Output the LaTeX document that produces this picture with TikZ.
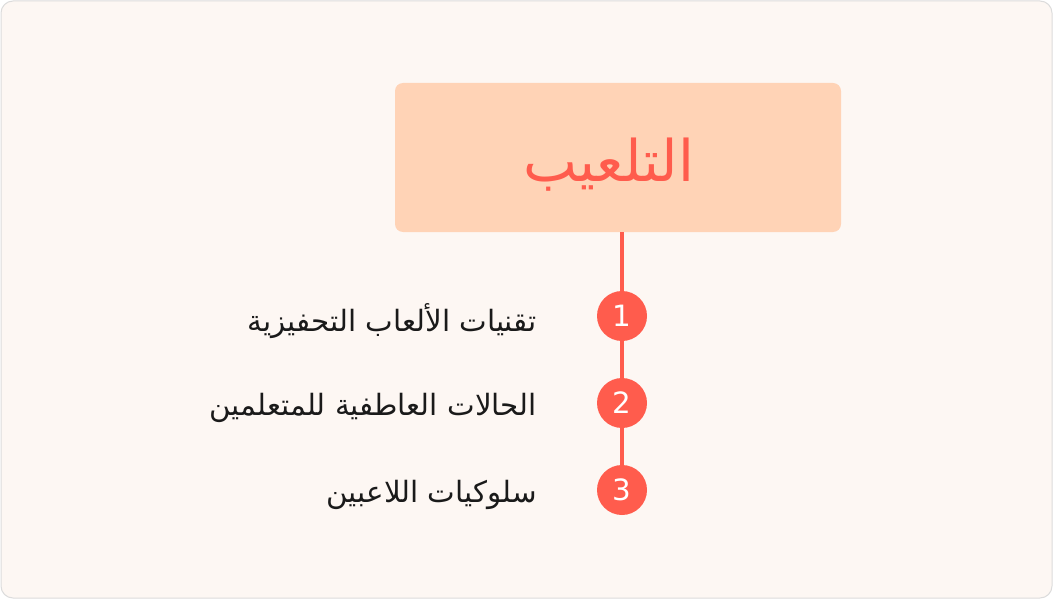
\documentclass[tikz,border=0pt]{standalone}
\usepackage{fontspec}
\setmainfont{DejaVu Sans}
\newfontfamily\arabicfont[Script=Arabic]{DejaVu Sans}
\TeXXeTstate=1
\definecolor{pagebg}{HTML}{FDF7F3}
\definecolor{pageline}{HTML}{DCDCDC}
\definecolor{peach}{HTML}{FFD3B6}
\definecolor{coral}{HTML}{FF5C4D}
\definecolor{ink}{HTML}{1A1A1A}
\tikzset{
  titlebox/.style={fill=peach,rounded corners=6pt,minimum width=334.5pt,minimum height=111.75pt,inner sep=0pt,
    text=coral,font=\arabicfont\fontsize{43}{48}\selectfont},
  stepdot/.style={circle,fill=coral,minimum size=37.5pt,inner sep=0pt,text=white,font=\fontsize{22}{26}\selectfont},
  steplabel/.style={anchor=east,inner sep=0pt,text=ink,font=\arabicfont\fontsize{22}{26}\selectfont},
  stem/.style={coral,line width=3pt}
}
\begin{document}
\begin{tikzpicture}[x=0.75pt,y=-0.75pt]
        \useasboundingbox (0,0) rectangle (1053,599);
        \draw[pageline,fill=pagebg,rounded corners=9pt,line width=0.75pt] (1,1) rectangle (1052,598);
        % title box
        \node[titlebox] (title) at (618,157.5) {\raisebox{-18pt}[0pt][0pt]{\hspace*{-14pt}\beginR التلعيب\endR}};
        \coordinate (p1) at (622,316);
        \coordinate (p2) at (622,403);
        \coordinate (p3) at (622,490);
        \draw[stem] (title.south -| p1) -- (p3);
        % steps
        \node[stepdot] (c1) at (p1) {1};
        \node[stepdot] (c2) at (p2) {2};
        \node[stepdot] (c3) at (p3) {3};
        \node[steplabel] (l1) at (537,321) {\beginR تقنيات الألعاب التحفيزية\endR};
        \node[steplabel] (l2) at (537,408) {\beginR الحالات العاطفية للمتعلمين\endR};
        \node[steplabel] (l3) at (537,495) {\beginR سلوكيات اللاعبين\endR};
\end{tikzpicture}
\end{document}
